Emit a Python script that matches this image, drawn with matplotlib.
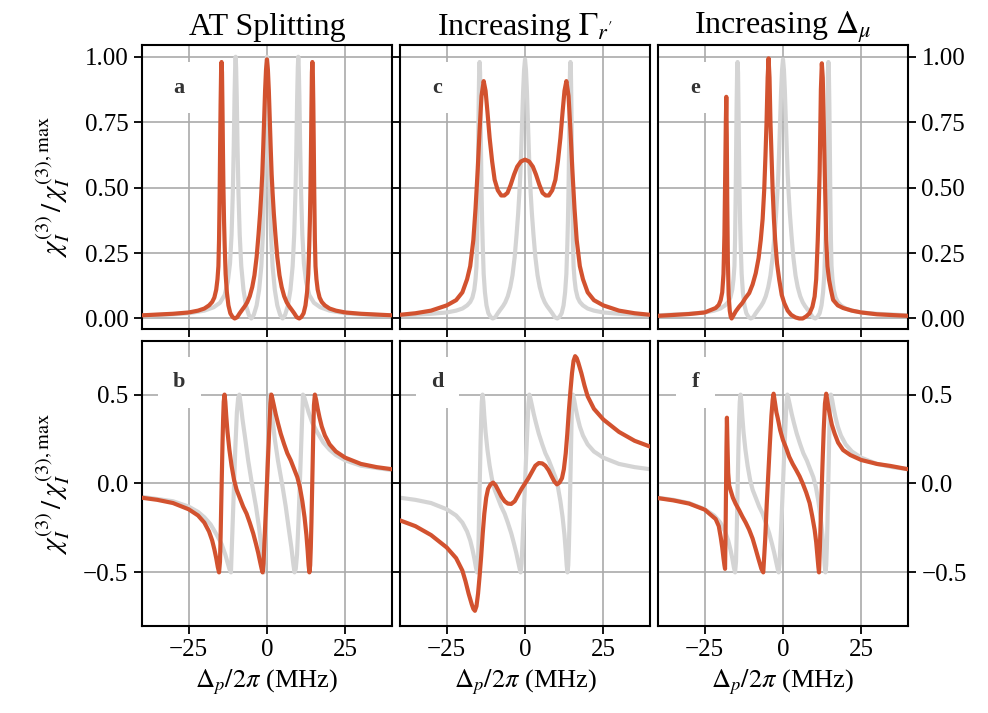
import matplotlib
matplotlib.use('Agg')
import matplotlib.pyplot as plt
from matplotlib.ticker import FuncFormatter

plt.rcParams['font.family'] = 'Liberation Serif'
plt.rcParams['mathtext.fontset'] = 'stix'

ORANGE = '#d2522f'
GRAY = '#d4d4d4'

# absorption, reference (gray in a)
abs_ref_x = [-40, -30, -25, -20, -17, -15, -13.5, -12.5, -11.8, -11.3, -10.9, -10.6, -10.35, -10.15, -10,
             -9.85, -9.65, -9.4, -9.1, -8.7, -8.2, -7.5, -6.7, -5.8, -5, -4.2, -3.3, -2.5, -1.8, -1.3,
             -0.9, -0.6, -0.35, -0.15, 0, 0.15, 0.35, 0.6, 0.9, 1.3, 1.8, 2.5, 3.3, 4.2, 5, 5.8, 6.7,
             7.5, 8.2, 8.7, 9.1, 9.4, 9.65, 9.85, 10, 10.15, 10.35, 10.6, 10.9, 11.3, 11.8, 12.5, 13.5,
             15, 17, 20, 25, 30, 40]
abs_ref_y = [0.011, 0.016, 0.02, 0.03, 0.043, 0.06, 0.09, 0.14, 0.21, 0.32, 0.48, 0.66, 0.85, 0.96, 1.0,
             0.96, 0.85, 0.66, 0.48, 0.32, 0.2, 0.11, 0.05, 0.014, 0.0, 0.014, 0.05, 0.11, 0.2, 0.32,
             0.48, 0.66, 0.85, 0.96, 1.0, 0.96, 0.85, 0.66, 0.48, 0.32, 0.2, 0.11, 0.05, 0.014, 0.0, 0.014, 0.05,
             0.11, 0.2, 0.32, 0.48, 0.66, 0.85, 0.96, 1.0, 0.96, 0.85, 0.66, 0.48, 0.32, 0.21, 0.14, 0.09,
             0.06, 0.043, 0.03, 0.02, 0.016, 0.011]

# absorption, AT splitting (orange in a, gray in c and e)
abs_at_x = [-40, -35, -30, -25, -22, -20, -18.5, -17.5, -16.8, -16.2, -15.8, -15.5, -15.3, -15.1, -14.95,
            -14.8, -14.65, -14.5, -14.35, -14.2, -14.05, -13.9, -13.7, -13.5, -13.2, -12.8, -12.3, -11.7,
            -11, -10.3, -9.5, -8.7, -7.8, -7, -6.3, -5.5, -4.7, -4, -3.3, -2.7, -2.2, -1.8, -1.5, -1.2,
            -0.9, -0.6, -0.3, 0, 0.3, 0.6, 0.9, 1.2, 1.5, 1.8, 2.2, 2.7, 3.3, 4, 4.7, 5.5, 6.3, 7, 7.8,
            8.7, 9.5, 10.3, 11, 11.7, 12.3, 12.8, 13.2, 13.5, 13.7, 13.9, 14.05, 14.2, 14.35, 14.5, 14.65,
            14.8, 14.95, 15.1, 15.3, 15.5, 15.8, 16.2, 16.8, 17.5, 18.5, 20, 22, 25, 30, 35, 40]
abs_at_y = [0.012, 0.015, 0.018, 0.023, 0.03, 0.038, 0.05, 0.063, 0.08, 0.11, 0.15, 0.2, 0.3, 0.48, 0.66,
            0.82, 0.94, 0.98, 0.94, 0.8, 0.64, 0.5, 0.37, 0.28, 0.17, 0.1, 0.05, 0.02,
            0.006, 0.0, 0.005, 0.02, 0.035, 0.048, 0.062, 0.085, 0.12, 0.165, 0.235, 0.32, 0.4, 0.48, 0.55, 0.65,
            0.76, 0.87, 0.95, 0.99, 0.95, 0.87, 0.76, 0.65, 0.55, 0.48, 0.4, 0.32, 0.235, 0.165, 0.12, 0.085, 0.062, 0.048, 0.035,
            0.02, 0.005, 0.0, 0.006, 0.02, 0.05, 0.1, 0.17, 0.28, 0.37, 0.5, 0.64, 0.8, 0.94, 0.98, 0.94,
            0.82, 0.66, 0.48, 0.3, 0.2, 0.15, 0.11, 0.08, 0.063, 0.05, 0.038, 0.03, 0.023, 0.018, 0.015, 0.012]

# absorption, increasing Gamma_r' (orange in c)
abs_gamma_x = [-40, -35, -30, -25, -22, -20, -18.5, -17.5, -16.5, -15.8, -15.1, -14.5, -13.9, -13.2, -12.6,
               -12, -11.3, -10.5, -9.7, -8.7, -7.6, -6.6, -5.6, -4.6, -3.5, -2.5, -1.3, 0, 1.3, 2.5, 3.5,
               4.6, 5.6, 6.6, 7.6, 8.7, 9.7, 10.5, 11.3, 12, 12.6, 13.2, 13.9, 14.5, 15.1, 15.8, 16.5,
               17.5, 18.5, 20, 22, 25, 30, 35, 40]
abs_gamma_y = [0.014, 0.02, 0.03, 0.05, 0.07, 0.1, 0.15, 0.2, 0.3, 0.42, 0.57, 0.72, 0.85, 0.907, 0.87,
               0.79, 0.69, 0.6, 0.53, 0.49, 0.47, 0.47, 0.48, 0.51, 0.55, 0.58, 0.6, 0.607, 0.6, 0.58, 0.55,
               0.51, 0.48, 0.47, 0.47, 0.49, 0.53, 0.6, 0.69, 0.79, 0.87, 0.907, 0.85, 0.72, 0.57, 0.42, 0.3,
               0.2, 0.15, 0.1, 0.07, 0.05, 0.03, 0.02, 0.014]

# absorption, increasing Delta_mu (orange in e)
abs_delta_x = [-40, -30, -25, -21.5, -20.5, -19.9, -19.4, -19, -18.7, -18.45, -18.25, -18.1, -17.95, -17.8,
               -17.6, -17.35, -17, -16.7, -16.4, -15.8, -15.1, -14, -13, -12, -10.8, -9.7, -8.7, -7.8,
               -7.1, -6.5, -6, -5.6, -5.25, -4.9, -4.6, -4.3, -4, -3.6, -3.3, -2.9, -2.5, -1.9, -1.2,
               -0.4, 0.4, 1.5, 2.6, 4, 5.2, 6.3, 7.4, 8.5, 9.4, 10.1, 10.6, 11.1, 11.4, 11.7, 12.1, 12.4,
               12.7, 13, 13.3, 13.8, 14.2, 14.7, 15.3, 16, 17.5, 19.2, 22, 25, 30, 40]
abs_delta_y = [0.01, 0.017, 0.023, 0.04, 0.052, 0.07, 0.1, 0.17, 0.32, 0.55, 0.75, 0.847, 0.7, 0.45,
               0.22, 0.09, 0.03, 0.008, 0.0, 0.012, 0.027, 0.045, 0.059, 0.078, 0.097, 0.13, 0.173, 0.23,
               0.3, 0.38, 0.49, 0.62, 0.75, 0.92, 0.994, 0.92, 0.75, 0.6, 0.49, 0.38, 0.3, 0.21, 0.148,
               0.09, 0.059, 0.03, 0.014, 0.004, 0.0, 0.0, 0.008, 0.02, 0.045, 0.084, 0.15, 0.3, 0.42, 0.56, 0.875, 0.975,
               0.92, 0.75, 0.58, 0.3, 0.2, 0.148, 0.11, 0.071, 0.05, 0.04, 0.03, 0.023, 0.016, 0.01]

# dispersion, reference (gray in b)
disp_ref_x = [-40, -30, -25, -22, -20, -18, -16, -14.5, -13.3, -12.5, -12, -11.5, -11.1, -10.6, -10.1,
              -9.6, -9.2, -8.8, -8.4, -7.8, -7, -6, -5, -4.5, -3.5, -2.5, -1.8, -1.3, -1, -0.7, -0.35, 0,
              0.35, 0.7, 1, 1.3, 1.8, 2.5, 3.5, 4.5, 5, 6, 7, 7.8, 8.4, 8.8, 9.2, 9.6, 10.1, 10.6, 11.1,
              11.5, 12, 12.5, 13.3, 14.5, 16, 18, 20, 22, 25, 30, 40]
disp_ref_y = [-0.075, -0.1, -0.13, -0.16, -0.19, -0.23, -0.29, -0.34, -0.4, -0.45, -0.48, -0.5, -0.3, -0.05, 0.2,
              0.4, 0.48, 0.5, 0.45, 0.36, 0.26, 0.13, 0.02, -0.03, -0.13, -0.25, -0.36, -0.45, -0.5, -0.4, -0.22, 0,
              0.22, 0.4, 0.5, 0.45, 0.36, 0.25, 0.13, 0.03, -0.02, -0.13, -0.26, -0.36, -0.45, -0.5, -0.48, -0.4, -0.2, 0.05, 0.3,
              0.5, 0.48, 0.45, 0.4, 0.34, 0.29, 0.23, 0.19, 0.16, 0.13, 0.1, 0.075]

# dispersion, AT splitting (orange in b, gray in d and f)
disp_at_x = [-40, -35, -30, -25, -22, -20, -18.5, -17.5, -16.8, -16.2, -15.7, -15.3, -15, -14.8, -14.6,
             -14.4, -14.2, -14, -13.8, -13.55, -13.3, -13, -12.6, -12, -11.3, -10.5, -9.7, -8.7, -7.6,
             -6.5, -5.5, -4.4, -3.5, -2.8, -2.2, -1.7, -1.4, -1.1, -0.8, -0.4, 0, 0.4, 0.8, 1.1, 1.4, 1.7,
             2.2, 2.8, 3.5, 4.4, 5.5, 6.5, 7.6, 8.7, 9.7, 10.5, 11.3, 12, 12.6, 13, 13.3, 13.55, 13.8, 14,
             14.2, 14.4, 14.6, 14.8, 15, 15.3, 15.7, 16.2, 16.8, 17.5, 18.5, 20, 22, 25, 30, 35, 40]
disp_at_y = [-0.08, -0.092, -0.11, -0.145, -0.18, -0.22, -0.27, -0.32, -0.37, -0.42, -0.47, -0.5, -0.44, -0.3, -0.12,
             0.05, 0.22, 0.36, 0.46, 0.5, 0.46, 0.38, 0.29, 0.19, 0.1, 0.02, -0.035, -0.08, -0.13,
             -0.17, -0.22, -0.28, -0.34, -0.39, -0.44, -0.48, -0.5, -0.45, -0.33, -0.17, 0, 0.17, 0.33, 0.45, 0.5, 0.48,
             0.44, 0.39, 0.34, 0.28, 0.22, 0.17, 0.13, 0.08, 0.035, -0.02, -0.1, -0.19, -0.29, -0.38, -0.46, -0.5, -0.46, -0.36,
             -0.22, -0.05, 0.12, 0.3, 0.44, 0.5, 0.47, 0.42, 0.37, 0.32, 0.27, 0.22, 0.18, 0.145, 0.11, 0.092, 0.08]

# dispersion, increasing Gamma_r' (orange in d)
disp_gamma_x = [-40, -35, -30, -25, -22, -20, -19, -18, -17, -16.5, -16, -15.5, -15, -14.5, -14, -13.5,
                -13, -12.4, -11.8, -11, -10.2, -9.4, -8.5, -7.5, -6.5, -5.5, -4.4, -3.3, -2.2, -1.1, 0,
                1.1, 2.2, 3.3, 4.4, 5.5, 6.5, 7.5, 8.5, 9.4, 10.2, 11, 11.8, 12.4, 13, 13.5, 14, 14.5, 15,
                15.5, 16, 16.5, 17, 18, 19, 20, 22, 25, 30, 35, 40]
disp_gamma_y = [-0.207, -0.24, -0.29, -0.36, -0.42, -0.49, -0.55, -0.62, -0.68, -0.705, -0.716, -0.69, -0.62, -0.52, -0.41, -0.28,
                -0.17, -0.08, -0.03, -0.005, 0.005, -0.01, -0.04, -0.075, -0.1, -0.113, -0.115, -0.1, -0.065, -0.03, 0,
                0.03, 0.065, 0.1, 0.115, 0.113, 0.1, 0.075, 0.04, 0.01, -0.005, 0.005, 0.03, 0.08, 0.17, 0.28, 0.41, 0.52, 0.62,
                0.69, 0.716, 0.705, 0.68, 0.62, 0.55, 0.49, 0.42, 0.36, 0.29, 0.24, 0.207]

# dispersion, increasing Delta_mu (orange in f)
disp_delta_x = [-40, -35, -30, -25, -21.5, -20.5, -19.9, -19.4, -19, -18.7, -18.5, -18.35, -18.2, -18.05,
                -17.9, -17.7, -17.5, -17.2, -16.7, -16, -15.1, -14, -13, -11.9, -10.8, -9.7, -8.7, -7.9,
                -7.4, -6.9, -6.3, -5.7, -5.2, -4.7, -4.2, -3.7, -3.3, -3, -2.6, -2.1, -1.7, -0.9, 0, 1,
                2, 3.1, 4.2, 5.3, 6.3, 7.4, 8.5, 9.3, 10.1, 10.6, 11, 11.3, 11.5, 11.8, 12.2, 12.6, 13,
                13.4, 13.8, 14.3, 14.9, 15.6, 16.5, 17.6, 19.2, 21.5, 25, 30, 34.2, 40]
disp_delta_y = [-0.082, -0.095, -0.113, -0.147, -0.2, -0.24, -0.3, -0.36, -0.42, -0.46, -0.48, -0.3, -0.05, 0.2,
                0.37, 0.2, 0.06, -0.01, -0.04, -0.08, -0.115, -0.15, -0.185, -0.22, -0.26, -0.31, -0.37, -0.42,
                -0.45, -0.48, -0.5, -0.32, -0.12, 0.05, 0.22, 0.38, 0.47, 0.505, 0.46, 0.4, 0.37, 0.3, 0.244, 0.2,
                0.15, 0.11, 0.076, 0.04, 0.0, -0.05, -0.11, -0.18, -0.26, -0.33, -0.41, -0.47, -0.5, -0.35, -0.12, 0.1, 0.3,
                0.45, 0.505, 0.45, 0.39, 0.33, 0.28, 0.23, 0.188, 0.16, 0.132, 0.11, 0.099, 0.08]

titles = ['AT Splitting', r"Increasing $\Gamma_{r'}$", r'Increasing $\Delta_\mu$']
letters = [['a', 'c', 'e'], ['b', 'd', 'f']]
ylabel = r'$\chi_I^{(3)}\,/\,\chi_I^{(3),\mathrm{max}}$'
xlabel = r'$\Delta_p/2\pi$ (MHz)'

panels = [
    [((abs_ref_x, abs_ref_y), (abs_at_x, abs_at_y)),
     ((abs_at_x, abs_at_y), (abs_gamma_x, abs_gamma_y)),
     ((abs_at_x, abs_at_y), (abs_delta_x, abs_delta_y))],
    [((disp_ref_x, disp_ref_y), (disp_at_x, disp_at_y)),
     ((disp_at_x, disp_at_y), (disp_gamma_x, disp_gamma_y)),
     ((disp_at_x, disp_at_y), (disp_delta_x, disp_delta_y))],
]


def fmt(decimals):
    return FuncFormatter(lambda v, _: f'{v:.{decimals}f}'.replace('-', '\u2212'))


fig = plt.figure(figsize=(9.88, 7.13), dpi=100)
col_x = [0.1434, 0.4046, 0.6657]
row_y = [0.5379, 0.1224]
w, h = 0.2536, 0.3990

for r in range(2):
    for c in range(3):
        ax = fig.add_axes([col_x[c], row_y[r], w, h])
        (gx, gy), (ox, oy) = panels[r][c]
        ax.plot(gx, gy, color=GRAY, lw=3.0, solid_joinstyle='round', zorder=2)
        ax.plot(ox, oy, color=ORANGE, lw=3.0, solid_joinstyle='round', zorder=3)
        ax.set_xlim(-40, 40)
        ax.set_xticks([-25, 0, 25])
        if r == 0:
            ax.set_ylim(-0.042, 1.045)
            ax.set_yticks([0, 0.25, 0.5, 0.75, 1.0])
            ax.yaxis.set_major_formatter(fmt(2))
            ax.set_title(titles[c], fontsize=23, pad=7)
            ax.tick_params(axis='x', labelbottom=False)
        else:
            ax.set_ylim(-0.8, 0.8)
            ax.set_yticks([-0.5, 0, 0.5])
            ax.yaxis.set_major_formatter(fmt(1))
            ax.set_xlabel(xlabel, fontsize=19, labelpad=5)
        ax.grid(True, color='#aaaaaa', lw=1.2)
        ax.set_axisbelow(True)
        ax.tick_params(direction='out', length=6, width=1.3, labelsize=18)
        for sp in ax.spines.values():
            sp.set_linewidth(1.5)
        if c == 0:
            ax.set_ylabel(ylabel, fontsize=21)
            ax.yaxis.set_label_coords(-0.28, 0.5)
        elif c == 1:
            ax.tick_params(axis='y', labelleft=False)
        else:
            ax.yaxis.tick_right()
        ax.text(0.15, 0.85 if r == 0 else 0.856, letters[r][c], transform=ax.transAxes,
                fontsize=16, fontweight='bold', color='#333333', ha='center', va='center',
                bbox=dict(boxstyle='square,pad=0.7', fc='white', ec='none'), zorder=5)

fig.savefig('out.png', dpi=100)
